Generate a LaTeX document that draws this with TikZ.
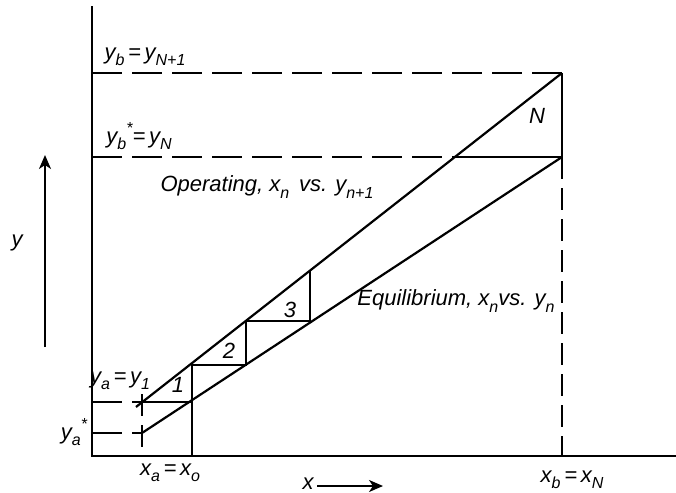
\documentclass[tikz,border=0pt]{standalone}
\usepackage{fontspec}
\setmainfont{Liberation Sans}
\usetikzlibrary{arrows.meta}
\newcommand\mysub[1]{\raisebox{-0.55ex}{\footnotesize #1}}
\newcommand\mysup[1]{\raisebox{0.9ex}{\footnotesize #1}}
\begin{document}
\begin{tikzpicture}[x=0.5pt,y=-0.5pt,
  every node/.style={font=\fontsize{11}{13}\selectfont\itshape, inner sep=0pt},
  axisline/.style={line width=1.1pt},
  curve/.style={line width=1.1pt},
  stepline/.style={line width=0.9pt},
  hdash/.style={line width=1pt, dash pattern=on 15pt off 5pt},
  vdash/.style={line width=1pt, dash pattern=on 11pt off 4.5pt},
  arr/.style={line width=0.9pt, -{Stealth[length=7pt,width=6pt,inset=2pt]}}]
\useasboundingbox (0,0) rectangle (676,493);
% key points
\coordinate (ytop) at (92,6);
\coordinate (O) at (92,456);
\coordinate (xend) at (676,456);
\coordinate (opX) at (136,407);
\coordinate (opA) at (142,402);
\coordinate (opB) at (562,73);
\coordinate (eqA) at (142,433);
\coordinate (eqB) at (562,157);
\coordinate (s1b) at (192,402);
\coordinate (s1c) at (192,365);
\coordinate (s2b) at (246,365);
\coordinate (s2c) at (246,321);
\coordinate (s3b) at (310,321);
\coordinate (s3c) at (310,271);
\coordinate (nA) at (456,157);
\coordinate (ybL) at (92,73);
\coordinate (ybsL) at (92,157);
\coordinate (yaL) at (92,402);
\coordinate (yasL) at (92,433);
\coordinate (xaT) at (142,394);
\coordinate (xaB) at (142,456);
\coordinate (x1B) at (192,456);
\coordinate (xbB) at (562,456);
% axes
\draw[axisline] (ytop) -- (O) -- (xend);
% lines
\draw[curve] (opX) -- (opB);
\draw[curve] (eqA) -- (eqB);
% steps
\draw[stepline] (opA) -- (s1b) -- (s1c) -- (s2b) -- (s2c) -- (s3b) -- (s3c);
\draw[stepline] (nA) -- (eqB) -- (opB);
\draw[stepline] (s1c) -- (x1B);
% dashed guides
\draw[hdash] (ybL) -- (opB);
\draw[hdash] (ybsL) -- (nA);
\draw[vdash] (eqB) -- (xbB);
\draw[hdash] (yaL) -- (opA);
\draw[hdash] (yasL) -- (eqA);
\draw[vdash] (xaT) -- (xaB);
% axis arrows
\coordinate (yarrB) at (45,347);
\coordinate (yarrT) at (45,155);
\draw[arr] (yarrB) -- (yarrT);
\coordinate (xarrL) at (317,486);
\coordinate (xarrR) at (383,486);
\draw[arr] (xarrL) -- (xarrR);
% labels
\node (ylab) at (17,243) {y};
\node[anchor=east] (xlab) at (314,484) {x};
\node (lyb) at (145,57) {y\mysub{b}\,=\,y\mysub{N+1}};
\node (lybs) at (139,136) {y\mysub{b}\mysup{*}=\,y\mysub{N}};
\node (lN) at (537,116) {N};
\node (lop) at (267,187) {Operating, x\mysub{n}\, vs. y\mysub{n+1}};
\node (leq) at (456,301) {Equilibrium, x\mysub{n}vs. y\mysub{n}};
\node (l3) at (290,310) {3};
\node (l2) at (229,351) {2};
\node (l1) at (178,385) {1};
\node (lya) at (120,381) {y\mysub{a}\,=\,y\mysub{1}};
\node (lyas) at (74,432) {y\mysub{a}\mysup{*}};
\node (lxa) at (170,473) {x\mysub{a}\,=\,x\mysub{o}};
\node (lxb) at (572,480) {x\mysub{b}\,=\,x\mysub{N}};
\end{tikzpicture}
\end{document}
